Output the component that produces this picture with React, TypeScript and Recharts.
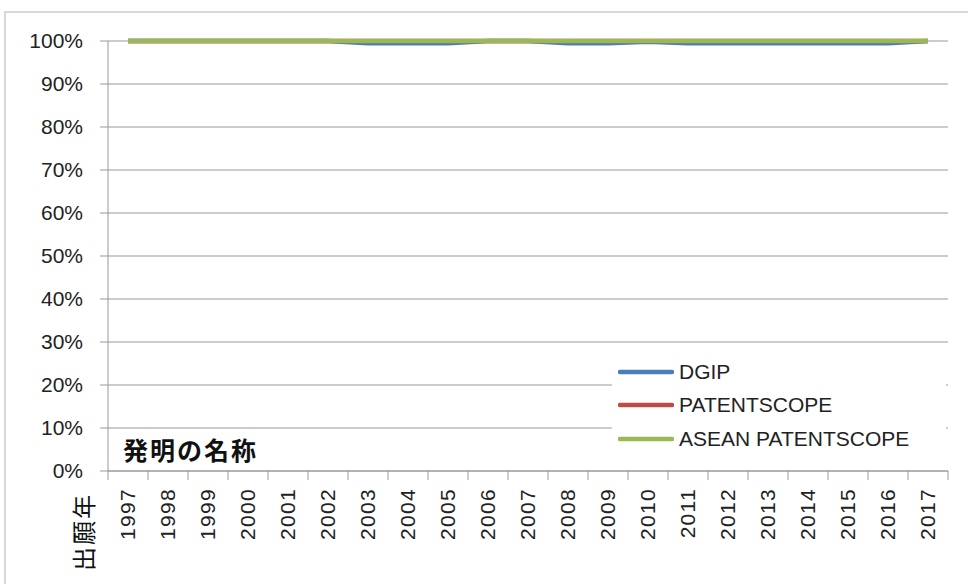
import { LineChart, Line, XAxis, YAxis, CartesianGrid, Legend } from "recharts";

const years = [
  "1997", "1998", "1999", "2000", "2001", "2002", "2003", "2004", "2005", "2006", "2007",
  "2008", "2009", "2010", "2011", "2012", "2013", "2014", "2015", "2016", "2017",
];
const dgip = [
  100, 100, 100, 100, 100, 100, 99.5, 99.5, 99.5, 100, 100,
  99.5, 99.5, 99.8, 99.5, 99.5, 99.5, 99.5, 99.5, 99.5, 100,
];
const patentscope = [
  100, 100, 100, 100, 100, 100, 100, 100, 100, 100, 100,
  100, 100, 100, 100, 100, 100, 100, 100, 100, 100,
];
const aseanPatentscope = [
  100, 100, 100, 100, 100, 100, 100, 100, 100, 100, 100,
  100, 100, 100, 100, 100, 100, 100, 100, 100, 100,
];
const seriesNames = ["DGIP", "PATENTSCOPE", "ASEAN PATENTSCOPE"];
const yTicks = [0, 10, 20, 30, 40, 50, 60, 70, 80, 90, 100];

const data = years.map((year, i) => ({
  year,
  dgip: dgip[i],
  patentscope: patentscope[i],
  asean: aseanPatentscope[i],
}));

const FONT = '"Liberation Sans", "Noto Sans CJK JP", sans-serif';
const GRID = "#999999";
const HALF_STEP = 20;
const TICK_LEN = 9;
const TICK_GAP = 8;

const YearTick = (props: any) => {
  const { x, y, payload, index } = props;
  const top = y - TICK_GAP - TICK_LEN;
  return (
    <g>
      <line x1={x - HALF_STEP} x2={x - HALF_STEP} y1={top} y2={top + TICK_LEN} stroke={GRID} />
      {index === years.length - 1 && (
        <line x1={x + HALF_STEP} x2={x + HALF_STEP} y1={top} y2={top + TICK_LEN} stroke={GRID} />
      )}
      <g transform={`translate(${x},${y})`}>
        <text
          transform="rotate(-90)"
          x={0}
          y={0}
          dy="0.35em"
          textAnchor="end"
          fill="#222"
          fontSize={21}
          letterSpacing={1.3}
          fontFamily={FONT}
        >
          {payload.value}
        </text>
      </g>
    </g>
  );
};

const LegendBox = ({ payload }: any) => {
  // keep the series order, not the alphabetical one
  const items = [...(payload || [])].sort(
    (a: any, b: any) => seriesNames.indexOf(a.value) - seriesNames.indexOf(b.value)
  );
  return (
    <div style={{ background: "#fff", width: 328, padding: "0 0 0 6px", fontFamily: FONT }}>
      {items.map((item: any) => (
        <div key={item.value} style={{ display: "flex", alignItems: "center", height: 33.5 }}>
          <svg width={56} height={8} style={{ marginRight: 5 }}>
            <line x1={2} x2={54} y1={4} y2={4} stroke={item.color} strokeWidth={4.5} strokeLinecap="round" />
          </svg>
          <span style={{ fontSize: 21, color: "#222" }}>{item.value}</span>
        </div>
      ))}
    </div>
  );
};

export default function App() {
  return (
    <div
      style={{
        position: "absolute",
        left: 0,
        top: 0,
        width: 968,
        height: 584,
        overflow: "hidden",
        background: "#fff",
      }}
    >
      <div
        style={{
          position: "absolute",
          left: 4,
          top: 11,
          width: 980,
          height: 600,
          borderLeft: "2px solid #d9d9d9",
          borderTop: "2px solid #d9d9d9",
        }}
      />
      <LineChart
        width={968}
        height={584}
        data={data}
        margin={{ top: 41, right: 20, left: 0, bottom: 0 }}
        style={{ position: "absolute", left: 0, top: 0 }}
      >
        <CartesianGrid vertical={false} stroke={GRID} />
        <XAxis
          dataKey="year"
          height={113}
          padding={{ left: HALF_STEP, right: HALF_STEP }}
          axisLine={{ stroke: GRID }}
          tickLine={false}
          tickSize={TICK_LEN}
          tickMargin={TICK_GAP}
          interval={0}
          tick={<YearTick />}
        />
        <YAxis
          width={108}
          domain={[0, 100]}
          ticks={yTicks}
          interval={0}
          tickFormatter={(v) => `${v}%`}
          axisLine={{ stroke: GRID }}
          tickLine={{ stroke: GRID }}
          tickSize={8}
          tickMargin={17}
          tick={{ fill: "#222", fontSize: 21, fontFamily: FONT }}
        />
        <Legend
          layout="vertical"
          align="center"
          verticalAlign="middle"
          content={<LegendBox />}
          wrapperStyle={{ left: 612, top: 355, width: 334 }}
        />
        <Line
          type="linear"
          dataKey="dgip"
          name={seriesNames[0]}
          stroke="#4a7ebb"
          strokeWidth={4.5}
          dot={false}
          activeDot={false}
          isAnimationActive={false}
        />
        <Line
          type="linear"
          dataKey="patentscope"
          name={seriesNames[1]}
          stroke="#be4b48"
          strokeWidth={4.5}
          dot={false}
          activeDot={false}
          isAnimationActive={false}
        />
        <Line
          type="linear"
          dataKey="asean"
          name={seriesNames[2]}
          stroke="#98b954"
          strokeWidth={4.5}
          dot={false}
          activeDot={false}
          isAnimationActive={false}
        />
      </LineChart>
      <div
        style={{
          position: "absolute",
          left: 123,
          top: 434,
          fontSize: 25,
          fontWeight: 700,
          letterSpacing: 2,
          fontFamily: '"Noto Sans CJK JP", sans-serif',
          color: "#111",
          lineHeight: "30px",
        }}
      >
        発明の名称
      </div>
      <div
        style={{
          position: "absolute",
          left: 83,
          top: 532,
          transform: "translate(-50%, -50%) rotate(-90deg)",
          fontSize: 24,
          fontFamily: '"Noto Sans CJK JP", sans-serif',
          color: "#111",
          whiteSpace: "nowrap",
          lineHeight: "26px",
          letterSpacing: 2,
        }}
      >
        出願年
      </div>
    </div>
  );
}
